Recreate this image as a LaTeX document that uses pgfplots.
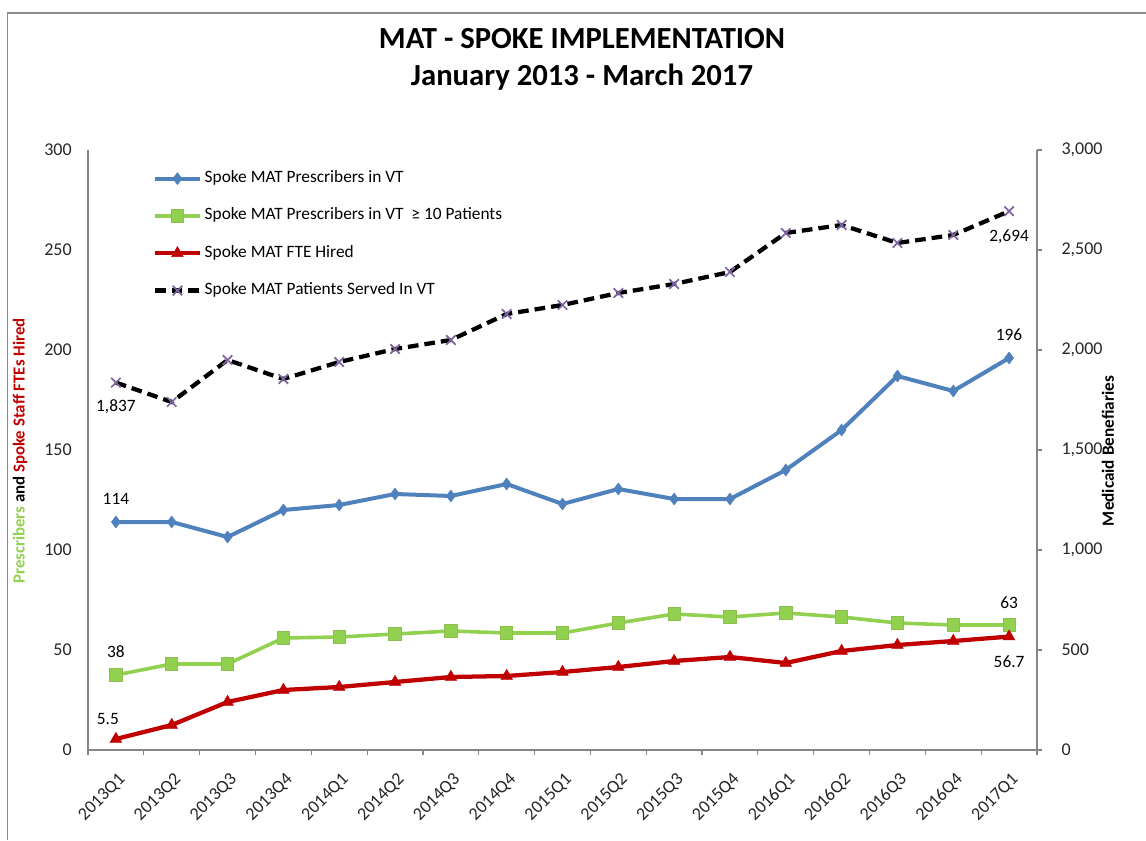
\documentclass[border=0pt]{standalone}
\usepackage{fontspec}
\setmainfont{Carlito}
\usepackage{pgfplots}
\pgfplotsset{compat=1.18}

\definecolor{sblue}{HTML}{4F81BD}
\definecolor{sgreen}{HTML}{92D050}
\definecolor{sgreenedge}{HTML}{8CBF50}
\definecolor{sred}{HTML}{C00000}
\definecolor{spurple}{HTML}{8064A2}
\definecolor{axgray}{HTML}{868686}
\definecolor{frgray}{HTML}{8C8C8C}

\newcommand{\lbl}{\fontsize{13}{15.5}\selectfont}
\newcommand{\tkl}{\fontsize{13.5}{16}\selectfont}

\begin{document}
\begin{tikzpicture}
\useasboundingbox (0,0) rectangle (859.5pt,630pt);
% outer frame (cropped at right and bottom)
\draw[frgray, line width=1.2pt] (5.6pt,0) -- (5.6pt,620.25pt) -- (859.5pt,620.25pt);

% titles
\node[font=\bfseries\fontsize{23}{27}\selectfont] at (436.5pt,601pt) {MAT - SPOKE IMPLEMENTATION};
\node[font=\bfseries\fontsize{23}{27}\selectfont] at (436.5pt,572.5pt) {January 2013 - March 2017};

% axis titles
\node[rotate=90, font=\bfseries\fontsize{12.6}{15}\selectfont] at (15pt,291.75pt)
  {\textcolor{sgreen}{Prescribers} and \textcolor{sred}{Spoke Staff FTEs Hired}};
\node[rotate=90, font=\bfseries\fontsize{12.9}{15}\selectfont] at (831pt,291.75pt)
  {Medicaid Benefiaries};

\begin{axis}[
  at={(66pt,67.5pt)}, anchor=south west,
  scale only axis, width=711.75pt, height=450pt,
  xmin=-0.5, xmax=16.5, ymin=0, ymax=300,
  axis x line*=bottom, axis y line*=left,
  axis line style={draw=axgray, line width=0.9pt},
  xtick={0,...,16},
  xticklabels={2013Q1,2013Q2,2013Q3,2013Q4,2014Q1,2014Q2,2014Q3,2014Q4,2015Q1,2015Q2,2015Q3,2015Q4,2016Q1,2016Q2,2016Q3,2016Q4,2017Q1},
  minor xtick={-0.5,0.5,...,16.5},
  major x tick style={draw=none},
  minor x tick style={draw=axgray, line width=0.9pt},
  minor tick length=4pt,
  xtick align=outside,
  ytick={0,50,...,300},
  ytick style={draw=none},
  ytick align=inside,
  tick label style={font=\tkl, text=black!85},
  xticklabel style={rotate=45, anchor=east, inner sep=0pt, xshift=-7.7pt, yshift=-14.8pt},
  yticklabel style={anchor=east, inner sep=0pt, xshift=-12pt},
  /pgf/number format/assume math mode=true,
  clip=false,
  legend style={at={(0.068,0.965)}, anchor=north west, draw=none, fill=none,
    inner sep=0pt, row sep=17pt, font=\lbl,
    nodes={inner sep=0pt, text height=8.5pt, text depth=2.5pt}},
  legend cell align=left,
  /tikz/every odd column/.style={column sep=2pt},
  legend image code/.code={\draw[mark repeat=2, mark phase=2, #1]
    plot coordinates {(0pt,0pt) (16.875pt,0pt) (33.75pt,0pt)};},
]
\addplot[sblue, line width=3pt, mark=diamond*, mark size=4.4pt,
  mark options={solid, fill=sblue, draw=sblue, line width=0.5pt}] coordinates {
(0,114) (1,114) (2,106.5) (3,120) (4,122.5) (5,128) (6,127) (7,133) (8,123)
(9,130.5) (10,125.5) (11,125.5) (12,140) (13,160) (14,187) (15,179.5) (16,196)
};
\addlegendentry{Spoke MAT Prescribers in VT}
\addplot[sgreen, line width=2.7pt, mark=square*, mark size=4.6pt,
  mark options={solid, fill=sgreen, draw=sgreenedge, line width=0.6pt}] coordinates {
(0,37.5) (1,43) (2,43) (3,56) (4,56.5) (5,58) (6,59.5) (7,58.5) (8,58.5)
(9,63.5) (10,68) (11,66.5) (12,68.5) (13,66.5) (14,63.5) (15,62.5) (16,62.5)
};
\addlegendentry{Spoke MAT Prescribers in VT\ \ ≥ 10 Patients}
\addplot[sred, line width=3.2pt, mark=triangle*, mark size=5pt,
  mark options={solid, fill=sred, draw=sred, line width=0.4pt}] coordinates {
(0,5.5) (1,12.5) (2,24) (3,30) (4,31.5) (5,34) (6,36.5) (7,37) (8,39)
(9,41.5) (10,44.5) (11,46.5) (12,43.5) (13,49.5) (14,52.5) (15,54.5) (16,56.7)
};
\addlegendentry{Spoke MAT FTE Hired}
\addlegendimage{black, line width=3.2pt, dash pattern=on 8pt off 4.5pt,
  mark=x, mark size=5pt, mark options={solid, draw=spurple, line width=1.3pt}}
\addlegendentry{Spoke MAT Patients Served In VT}

\node[font=\lbl] at (axis cs:0,114) [yshift=17.25pt] {114};
\node[font=\lbl] at (axis cs:0,37.5) [yshift=17.25pt] {38};
\node[font=\lbl] at (axis cs:0,5.5) [xshift=-6pt, yshift=15pt] {5.5};
\node[font=\lbl] at (axis cs:16,196) [yshift=17.25pt] {196};
\node[font=\lbl] at (axis cs:16,62.5) [yshift=16.5pt] {63};
\node[font=\lbl] at (axis cs:16,56.7) [yshift=-18.75pt] {56.7};
\end{axis}

\begin{axis}[
  at={(66pt,67.5pt)}, anchor=south west,
  scale only axis, width=711.75pt, height=450pt,
  xmin=-0.5, xmax=16.5, ymin=0, ymax=3000,
  axis x line=none, axis y line*=right,
  axis line style={draw=axgray, line width=0.9pt},
  ytick={0,500,...,3000},
  ytick style={draw=axgray, line width=0.9pt},
  ytick align=outside, major tick length=3.75pt,
  tick label style={font=\tkl, text=black!85},
  yticklabel style={anchor=west, inner sep=0pt, xshift=14.5pt},
  /pgf/number format/.cd, 1000 sep={,}, assume math mode=true,
  /pgfplots/.cd,
  clip=false,
]
\addplot[black, line width=3.2pt, dash pattern=on 8pt off 4.5pt,
  mark=x, mark size=5pt, mark options={solid, draw=spurple, line width=1.3pt}] coordinates {
(0,1837) (1,1740) (2,1950) (3,1855) (4,1940) (5,2005) (6,2050) (7,2180) (8,2225)
(9,2285) (10,2330) (11,2390) (12,2585) (13,2625) (14,2535) (15,2575) (16,2694)
};
\node[font=\lbl] at (axis cs:0,1837) [yshift=-18pt] {1,837};
\node[font=\lbl] at (axis cs:16,2694) [yshift=-19.5pt] {2,694};
\end{axis}
\end{tikzpicture}
\end{document}
